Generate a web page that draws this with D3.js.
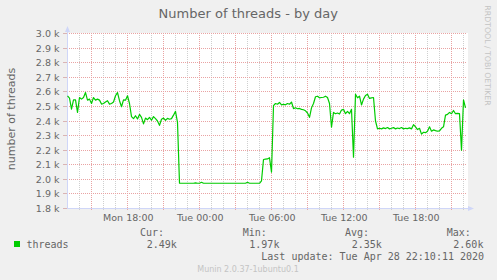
<!DOCTYPE html>
<html><head><meta charset="utf-8">
<script src="https://cdn.jsdelivr.net/npm/d3@7"></script>
<style>html,body{margin:0;padding:0;background:#f0f0f0;} svg{display:block;}</style>
</head><body>
<script>
const title = "Number of threads - by day";
const yAxisTitle = "number of threads";
const seriesName = "threads";
const startHour = 13;      // Mon 13:00 (hours counted from Mon 00:00)
const stepMinutes = 10;
const values = [
  2573, 2557, 2482, 2545, 2545, 2459, 2561, 2550, 2561, 2595,
  2543, 2550, 2520, 2561, 2543, 2550, 2543, 2516, 2520, 2530,
  2539, 2516, 2520, 2530, 2573, 2595, 2539, 2498, 2545, 2543,
  2573, 2520, 2430, 2416, 2436, 2414, 2445, 2425, 2380, 2420,
  2409, 2425, 2405, 2430, 2416, 2400, 2370, 2412, 2420, 2405,
  2418, 2412, 2416, 2440, 2466, 2390, 1973, 1973, 1973, 1973,
  1973, 1973, 1973, 1973, 1976, 1973, 1973, 1980, 1973, 1973,
  1973, 1973, 1973, 1973, 1973, 1973, 1973, 1973, 1973, 1973,
  1973, 1973, 1973, 1973, 1973, 1973, 1973, 1973, 1973, 1973,
  1980, 1973, 1973, 1973, 1973, 1973, 1973, 1990, 2136, 2138,
  2140, 2148, 2050, 2505, 2520, 2515, 2527, 2511, 2515, 2511,
  2520, 2515, 2530, 2485, 2491, 2484, 2486, 2480, 2477, 2470,
  2455, 2425, 2490, 2520, 2566, 2570, 2559, 2561, 2563, 2570,
  2561, 2520, 2357, 2459, 2450, 2455, 2448, 2475, 2480, 2450,
  2466, 2450, 2480, 2152, 2584, 2559, 2570, 2510, 2550, 2575,
  2584, 2555, 2559, 2561, 2400, 2346, 2350, 2346, 2353, 2348,
  2355, 2346, 2350, 2355, 2346, 2352, 2348, 2355, 2346, 2350,
  2348, 2353, 2346, 2375, 2360, 2341, 2350, 2310, 2323, 2320,
  2330, 2360, 2330, 2339, 2334, 2330, 2332, 2350, 2360, 2440,
  2445, 2459, 2450, 2472, 2450, 2452, 2450, 2200, 2545, 2490
];
const yTicks = [1800, 1900, 2000, 2100, 2200, 2300, 2400, 2500, 2600, 2700, 2800, 2900, 3000];
const yTickLabels = ["1.8 k","1.9 k","2.0 k","2.1 k","2.2 k","2.3 k","2.4 k","2.5 k","2.6 k","2.7 k","2.8 k","2.9 k","3.0 k"];
const xTickHours = [18, 24, 30, 36, 42];
const xTickLabels = ["Mon 18:00", "Tue 00:00", "Tue 06:00", "Tue 12:00", "Tue 18:00"];
const legendHeads = ["Cur:", "Min:", "Avg:", "Max:"];
const legendValues = ["2.49k", "1.97k", "2.35k", "2.60k"];
const lastUpdate = "Last update: Tue Apr 28 22:10:11 2020";
const footer = "Munin 2.0.37-1ubuntu0.1";
const watermark = "RRDTOOL / TOBI OETIKER";

(function () {
const W = 497, H = 280;
const pL = 67, pR = 467, pT = 33, pB = 208;
const FONT = "'DejaVu Sans', sans-serif";
const MONO = "'DejaVu Sans Mono', monospace";
const TXT = "#666666";

const svg = d3.select("body").append("svg").attr("width", W).attr("height", H);
svg.append("rect").attr("width", W).attr("height", H).attr("fill", "#f0f0f0");

const x = d3.scaleLinear().domain([13, 13 + 400 / 12]).range([pL + 0.5, pR + 0.5]);
const y = d3.scaleLinear().domain([1800, 3000]).range([pB + 0.5, pT + 0.5]);
const snap = v => Math.round(v - 0.5) + 0.5;

svg.append("rect").attr("x", pL).attr("y", pT).attr("width", pR - pL + 1).attr("height", pB - pT)
  .attr("fill", "#ffffff");

// vertical grid (hourly minor, 3-hourly major)
const hours = d3.range(14, 47);
const g = svg.append("g");
hours.forEach(h => {
  const major = h % 3 === 0;
  g.append("line").attr("x1", x(h)).attr("x2", x(h)).attr("y1", pT).attr("y2", pB)
    .attr("stroke", major ? "#e9a3a3" : "#cfcfcf").attr("stroke-dasharray", "1,1");
  g.append("line").attr("x1", x(h)).attr("x2", x(h)).attr("y1", pB - 1).attr("y2", pB + 2)
    .attr("stroke", major ? "#e9a3a3" : "#cfcfcf");
});
// horizontal grid
yTicks.forEach(v => {
  const yy = snap(y(v));
  g.append("line").attr("x1", pL).attr("x2", pR).attr("y1", yy).attr("y2", yy)
    .attr("stroke", "#e9a3a3").attr("stroke-dasharray", "1,1");
  g.append("line").attr("x1", pL - 4).attr("x2", pL + 1).attr("y1", yy).attr("y2", yy)
    .attr("stroke", "#d9b4b4");
});

// axes
const AX = "#cfd6f8";
svg.append("line").attr("x1", pL + 0.5).attr("x2", pL + 0.5).attr("y1", pB + 1).attr("y2", pT - 4)
  .attr("stroke", AX);
svg.append("path").attr("d", `M${pL - 2},${pT - 1} L${pL + 3},${pT - 1} L${pL + 0.5},${pT - 7} Z`).attr("fill", AX);
svg.append("line").attr("x1", pL).attr("x2", pR + 4).attr("y1", pB + 0.5).attr("y2", pB + 0.5)
  .attr("stroke", AX);
svg.append("path").attr("d", `M${pR + 1},${pB - 2} L${pR + 1},${pB + 3} L${pR + 7},${pB + 0.5} Z`).attr("fill", AX);

// y labels
svg.append("g").selectAll("text").data(yTicks).join("text")
  .attr("x", 59.5).attr("y", (d) => snap(y(d)) + 3.4)
  .attr("text-anchor", "end").attr("font-family", FONT).attr("font-size", 9.5).attr("fill", TXT)
  .text((d, i) => yTickLabels[i]);

// x labels
svg.append("g").selectAll("text").data(xTickHours).join("text")
  .attr("x", d => x(d) + 0.8).attr("y", 220.6)
  .attr("text-anchor", "middle").attr("font-family", FONT).attr("font-size", 9.5).attr("fill", TXT)
  .text((d, i) => xTickLabels[i]);

// data line
const pts = values.map((v, i) => [startHour + i * stepMinutes / 60, v]);
svg.append("path").datum(pts)
  .attr("d", d3.line().x(d => x(d[0])).y(d => y(d[1])))
  .attr("fill", "none").attr("stroke", "#00cc00").attr("stroke-width", 1.2).attr("stroke-linejoin", "round");

// title
svg.append("text").attr("x", 248.3).attr("y", 18.3).attr("text-anchor", "middle")
  .attr("font-family", FONT).attr("font-size", 13).attr("fill", TXT).text(title);

// y axis title
svg.append("text").attr("transform", "translate(15,119) rotate(-90)").attr("text-anchor", "middle")
  .attr("font-family", FONT).attr("font-size", 11).attr("fill", TXT).text(yAxisTitle);

// watermark
svg.append("text").attr("transform", "translate(484.6,55.5) rotate(90)").attr("text-anchor", "middle")
  .attr("font-family", FONT).attr("font-size", 7.8).attr("fill", "#c4c4c4").text(watermark);

// legend
svg.append("rect").attr("x", 14).attr("y", 241).attr("width", 6).attr("height", 6).attr("fill", "#00cc00");
svg.append("text").attr("x", 26.5).attr("y", 247.6).attr("font-family", MONO).attr("font-size", 10)
  .attr("fill", TXT).text(seriesName);
const headX = [140, 242.7, 345, 446.7];
const valX = [146.7, 249.3, 351.7, 453.3];
svg.append("g").selectAll("text").data(legendHeads).join("text")
  .attr("x", (d, i) => headX[i]).attr("y", 236).attr("font-family", MONO).attr("font-size", 10)
  .attr("fill", TXT).text(d => d);
svg.append("g").selectAll("text").data(legendValues).join("text")
  .attr("x", (d, i) => valX[i]).attr("y", 247.6).attr("font-family", MONO).attr("font-size", 10)
  .attr("fill", TXT).text(d => d);
svg.append("text").attr("x", 261.3).attr("y", 260).attr("font-family", MONO).attr("font-size", 10)
  .attr("fill", TXT).text(lastUpdate);
svg.append("text").attr("x", 248).attr("y", 271.7).attr("text-anchor", "middle").attr("font-family", FONT)
  .attr("font-size", 8).attr("fill", "#c4c4c4").text(footer);
})();
</script>
</body></html>
